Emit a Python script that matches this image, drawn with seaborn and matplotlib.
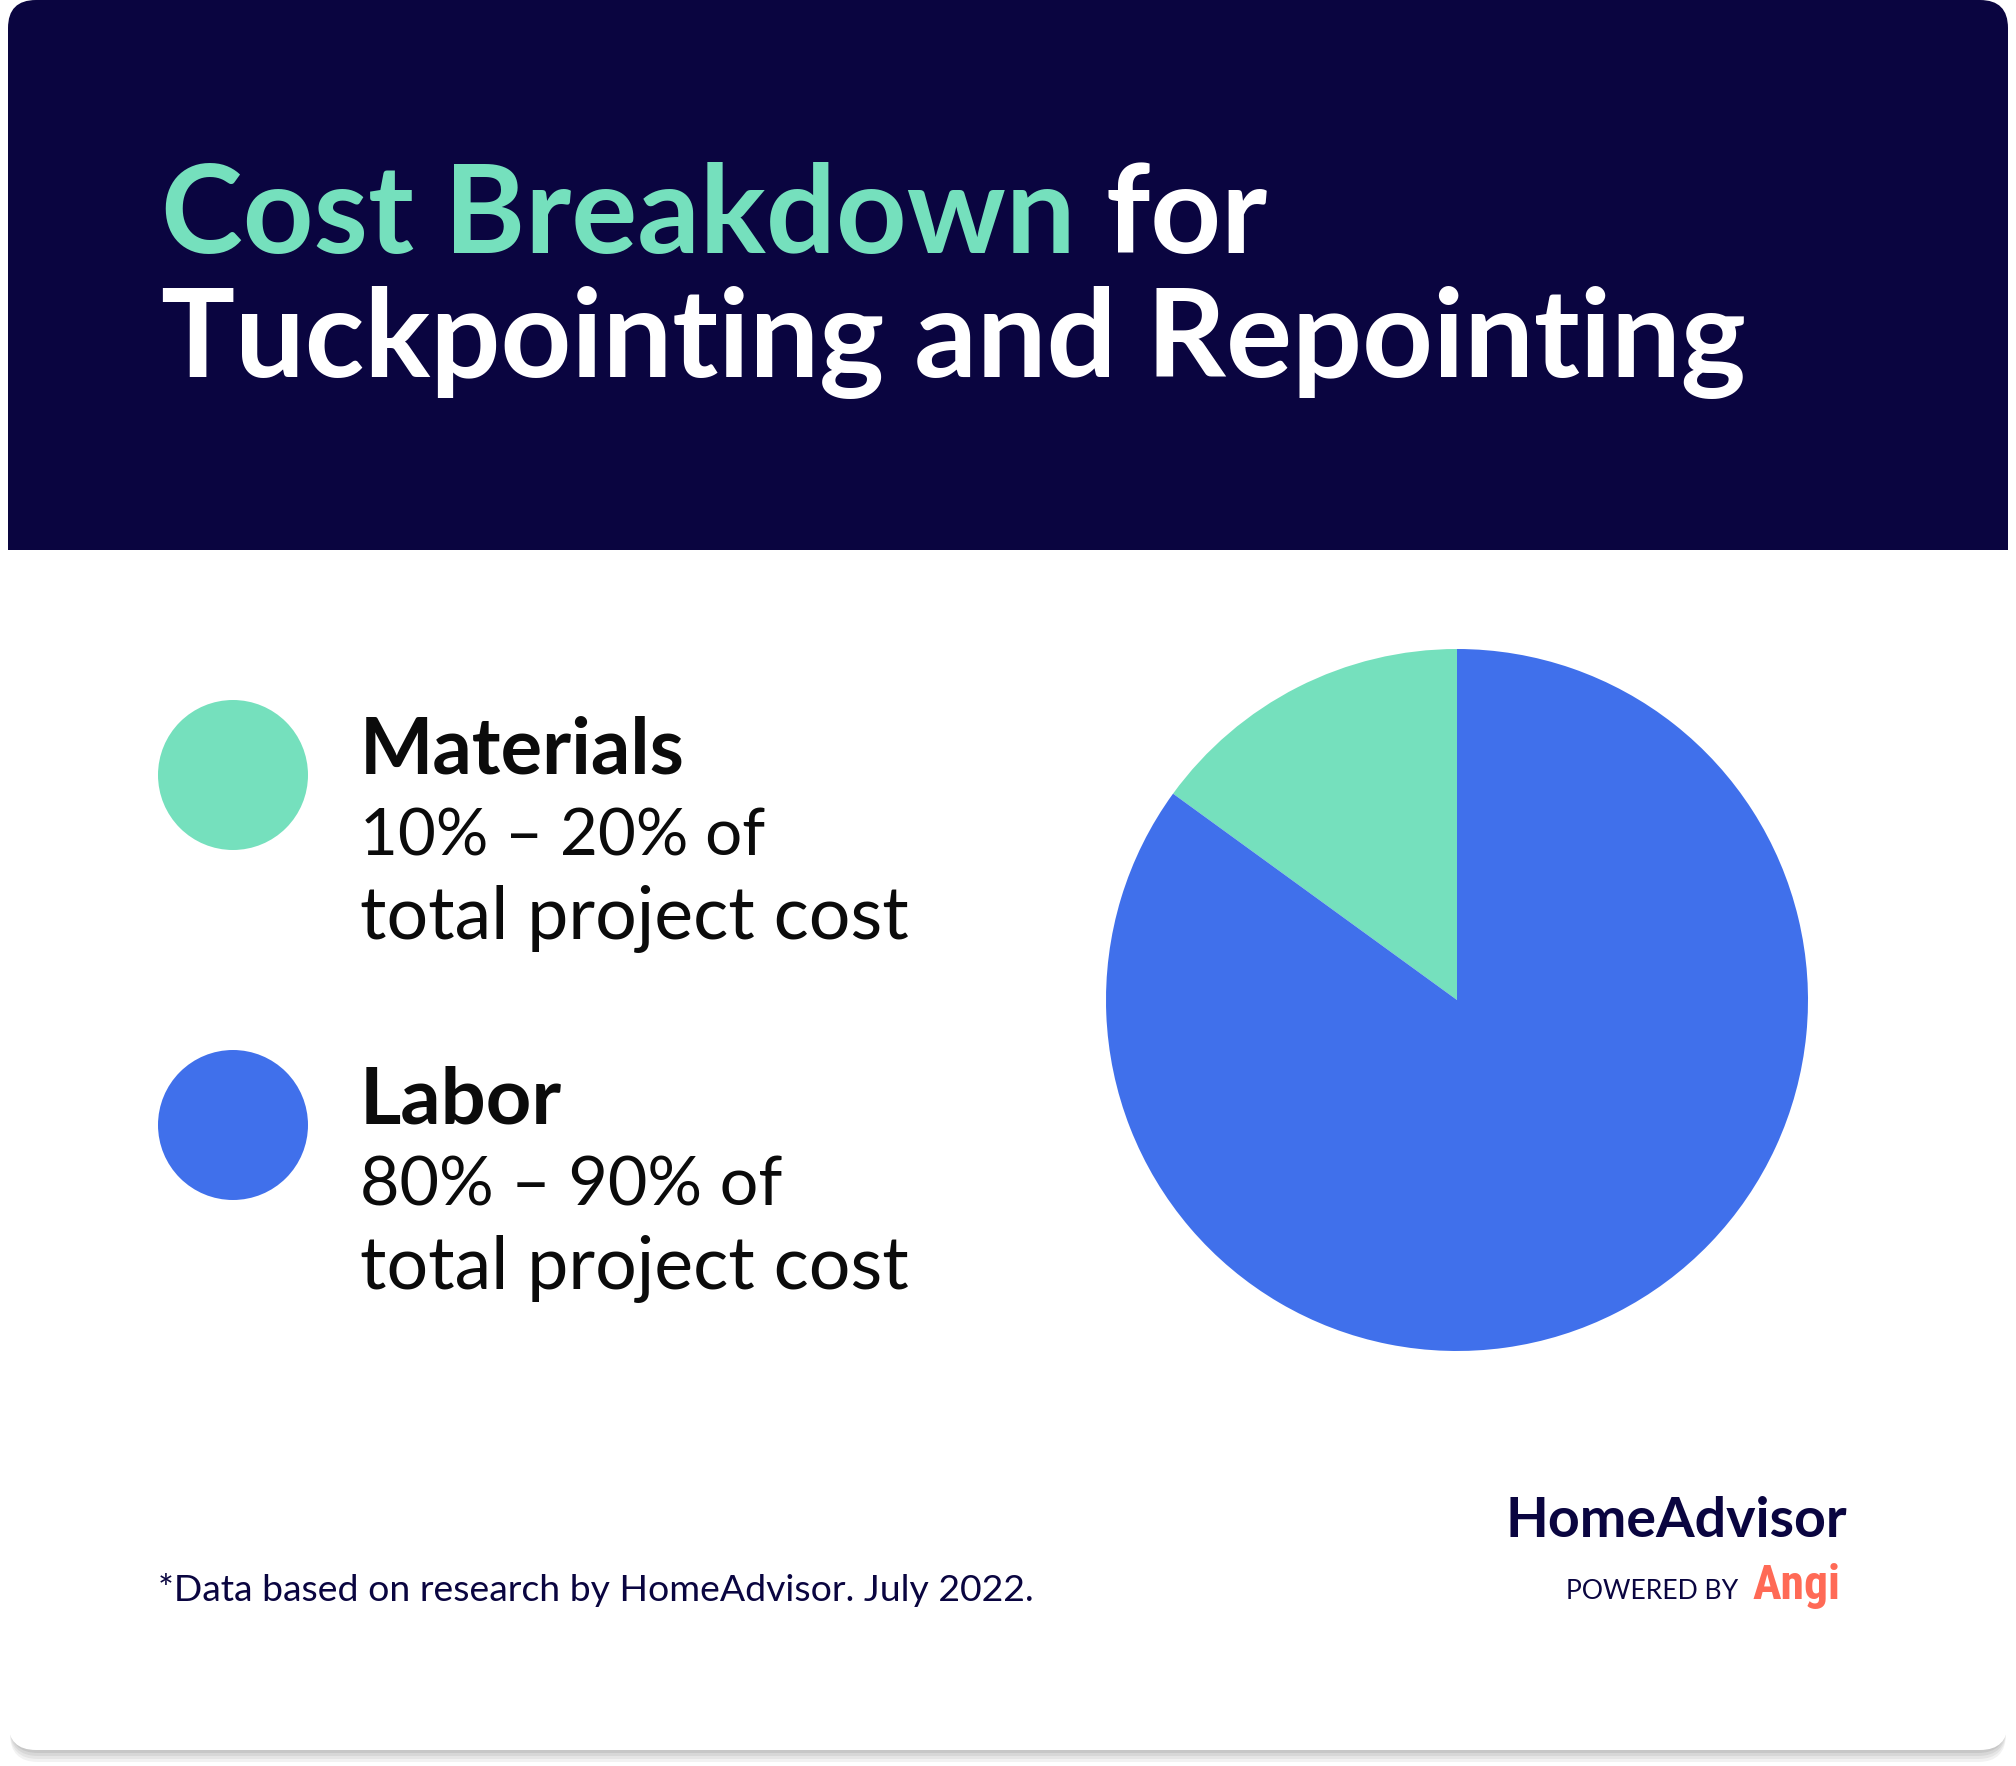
import matplotlib
matplotlib.use("Agg")
import matplotlib.pyplot as plt
from matplotlib.patches import FancyBboxPatch, Rectangle
import seaborn as sns
import pandas as pd

# ---------------- data ----------------
categories = ["Materials", "Labor"]
shares = [15, 85]                       # approximate midpoint shares
range_labels = ["10% \u2013 20% of", "80% \u2013 90% of"]
detail_label = "total project cost"
title_green = "Cost Breakdown"
title_white_1 = " for"
title_line2 = "Tuckpointing and Repointing"
footnote = "*Data based on research by HomeAdvisor. July 2022."
brand = "HomeAdvisor"
powered = "POWERED BY"
angi = "Angi"

# ---------------- style ----------------
NAVY = "#0A0540"
GREEN = "#75E0BD"
BLUE = "#4070EB"
CORAL = "#FF6A56"
palette = dict(zip(categories, [GREEN, BLUE]))

sns.set_theme(style="white")
plt.rcParams["font.family"] = ["Lato", "DejaVu Sans"]

W, H = 2016, 1766
fig = plt.figure(figsize=(W / 100, H / 100), dpi=100, facecolor="white")
base = fig.add_axes([0, 0, 1, 1])
base.set_xlim(0, W)
base.set_ylim(H, 0)
base.axis("off")

# card shadow
for i, a in enumerate([0.05, 0.05, 0.06, 0.07]):
    off = 12 - i * 3
    sh = FancyBboxPatch((8 + 2, 0 + off), 2000 - 4, 1750, boxstyle="round,pad=0,rounding_size=28",
                        fc="#000000", ec="none", alpha=a, zorder=1)
    base.add_patch(sh)
card = FancyBboxPatch((8, 0), 2000, 1750, boxstyle="round,pad=0,rounding_size=28",
                      fc="white", ec="none", zorder=2)
base.add_patch(card)
header = Rectangle((8, 0), 2000, 550, fc=NAVY, ec="none", zorder=3)
base.add_patch(header)
header.set_clip_path(card)

fig.canvas.draw()
renderer = fig.canvas.get_renderer()


def fit(txt, x, y, target_w, size, **kw):
    t = base.text(x, y, txt, fontsize=size, va="baseline", ha="left", zorder=10, **kw)
    w = t.get_window_extent(renderer).width
    t.set_fontsize(size * target_w / w)
    return t


def width_of(t):
    return t.get_window_extent(renderer).width

# title
t1 = fit(title_green, 161, 253, 1105 * 0.835, 84, color=GREEN, fontweight="bold")
tw = fit(title_green + title_white_1, 161, 253, 1105, 84, color="white", fontweight="bold")
tw.remove()
fs_title = tw.get_fontsize()
t1.set_fontsize(fs_title)
w1 = width_of(t1)
base.text(161 + w1, 253, title_white_1, fontsize=fs_title, color="white", fontweight="bold",
          va="baseline", ha="left", zorder=10)
base.text(161, 377, title_line2, fontsize=fs_title, color="white", fontweight="bold",
          va="baseline", ha="left", zorder=10)

# legend dots via seaborn
leg_y = [775, 1125]
leg_df = pd.DataFrame({"x": [233, 233], "y": leg_y, "cat": categories})
sns.scatterplot(data=leg_df, x="x", y="y", hue="cat", palette=palette, s=(150 * 0.72) ** 2,
                linewidth=0, legend=False, ax=base, zorder=5)
base.set_xlim(0, W)
base.set_ylim(H, 0)
base.axis("off")

head_w = {"Materials": 325, "Labor": 202}
range_w = [405, 422]
for i, cat in enumerate(categories):
    by = leg_y[i] - 2
    fit(cat, 360, by, head_w[cat], 54, color="#0B0B0B", fontweight="bold")
    fit(range_labels[i], 360, by + 83, range_w[i], 46, color="#0B0B0B")
    fit(detail_label, 360, by + 166, 548, 46, color="#0B0B0B")

# footnote and brand
fit(footnote, 158, 1601, 876, 26, color=NAVY)
fit(brand, 1506, 1537, 342, 40, color=NAVY, fontweight="bold")
fit(powered, 1566, 1599, 172, 16, color=NAVY)
fit(angi, 1752, 1599, 88, 40, color=CORAL, fontweight="bold",
    family=["Roboto Condensed", "Liberation Sans Narrow", "Roboto", "DejaVu Sans"])

# pie
cx, cy, r = 1457, 1000, 351
ax_pie = fig.add_axes([(cx - r) / W, (H - cy - r) / H, 2 * r / W, 2 * r / H])
ax_pie.pie(shares, colors=[palette[c] for c in categories], startangle=90, counterclock=True,
           wedgeprops=dict(linewidth=0))
ax_pie.set_xlim(-1, 1)
ax_pie.set_ylim(-1, 1)
ax_pie.set_aspect("equal")
ax_pie.axis("off")
ax_pie.set_zorder(5)

fig.savefig("out.png", dpi=100, facecolor="white")
